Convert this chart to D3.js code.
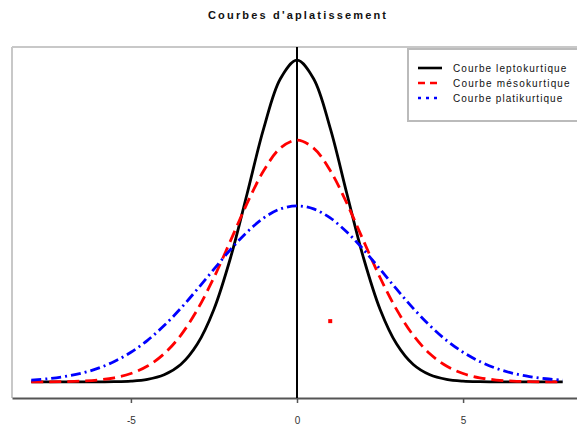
<!DOCTYPE html>
<html><head><meta charset="utf-8">
<script src="https://cdn.jsdelivr.net/npm/d3@7"></script>
<style>html,body{margin:0;padding:0;background:#fff;overflow:hidden}svg{display:block}</style>
</head><body>
<script>
// ---- data ----
const xs = [-8,-7.5,-7,-6.5,-6,-5.5,-5,-4.5,-4,-3.5,-3,-2.5,-2,-1.5,-1,-0.5,0,0.5,1,1.5,2,2.5,3,3.5,4,4.5,5,5.5,6,6.5,7,7.5,8];
const halfLepto = [0.2751,0.2592,0.2169,0.1611,0.1063,0.0622,0.0324,0.0149,0.00612,0.00223,0.00072,0.00021,0.00005,0.00001,0,0,0];
const halfMeso  = [0.2067,0.1999,0.1807,0.1528,0.1208,0.0893,0.0618,0.0399,0.0241,0.0136,0.0072,0.00357,0.00165,0.00071,0.00029,0.00011,0.00004];
const halfPlati = [0.1505,0.1479,0.1402,0.1282,0.1132,0.0964,0.0793,0.0629,0.0482,0.0356,0.0254,0.0175,0.0116,0.0074,0.0046,0.00274,0.00158];
const lepto = halfLepto.slice(1).reverse().concat(halfLepto);
const meso  = halfMeso.slice(1).reverse().concat(halfMeso);
const plati = halfPlati.slice(1).reverse().concat(halfPlati);
const seriesNames = ["Courbe leptokurtique","Courbe mésokurtique","Courbe platikurtique"];
const seriesColors = ["#000000","#ff0000","#0000ff"];
const seriesDash = [null,"12,6","10,4,2,4"];
const strayPoint = [{x:1.0, y:0.052}];
const xTicks = [-5,0,5];
const xTickLabels = ["-5","0","5"];
const title = "Courbes d'aplatissement";

// ---- layout ----
const W = 577, H = 431;
const plotL = 12, plotR = 582, plotT = 47, plotB = 398;
const FONT = "Liberation Sans, Arial, sans-serif";
const svg = d3.select("body").append("svg").attr("width",W).attr("height",H);

const x = d3.scaleLinear().domain([-8.58, 8.58]).range([plotL, plotR]);
const y = d3.scaleLinear().domain([-0.0137, 0.2863]).range([plotB, plotT]);

// frame
svg.append("line").attr("x1",plotL).attr("x2",plotL).attr("y1",plotT).attr("y2",plotB)
  .attr("stroke","#c8c8c8").attr("stroke-width",2);
svg.append("line").attr("x1",plotL).attr("x2",plotR).attr("y1",plotT).attr("y2",plotT)
  .attr("stroke","#c8c8c8").attr("stroke-width",2);

// x axis
const xAxis = d3.axisBottom(x).tickValues(xTicks).tickFormat((d,i)=>xTickLabels[i]).tickSize(5).tickSizeOuter(0);
const gx = svg.append("g").attr("transform",`translate(0,${plotB})`).call(xAxis);
gx.select(".domain").attr("stroke","#555").attr("stroke-width",2);
gx.selectAll(".tick line").attr("stroke","#555").attr("stroke-width",1.5);
gx.selectAll(".tick text").attr("font-family",FONT)
  .attr("font-size",10).attr("fill","#333").attr("dy","1.75em");

// vertical line at 0
svg.append("line").attr("x1",x(0)).attr("x2",x(0)).attr("y1",plotT).attr("y2",plotB)
  .attr("stroke","#000").attr("stroke-width",2);

// curves
const line = d3.line().x((d,i)=>x(xs[i])).y(d=>y(d)).curve(d3.curveCatmullRom);
[lepto, meso, plati].forEach((s,k)=>{
  svg.append("path").datum(s).attr("d",line).attr("fill","none")
    .attr("stroke",seriesColors[k]).attr("stroke-width",2.8)
    .attr("stroke-dasharray",seriesDash[k]);
});

// stray point
svg.selectAll(".pt").data(strayPoint).enter().append("rect")
  .attr("x",d=>x(d.x)-2).attr("y",d=>y(d.y)-2).attr("width",4).attr("height",4).attr("fill","#ff0000");

// title
svg.append("text").attr("x",297).attr("y",19).attr("text-anchor","middle")
  .attr("font-family",FONT).attr("font-weight","bold")
  .attr("font-size",11).attr("fill","#111")
  .attr("textLength",178).attr("lengthAdjust","spacing").text(title);

// legend
const lg = svg.append("g");
lg.append("rect").attr("x",408).attr("y",49).attr("width",200).attr("height",72)
  .attr("fill","#fff").attr("stroke","#bbb").attr("stroke-width",2);
seriesNames.forEach((n,k)=>{
  const yy = 68 + k*15;
  lg.append("line").attr("x1",418).attr("x2",442).attr("y1",yy).attr("y2",yy)
    .attr("stroke",seriesColors[k]).attr("stroke-width",2.6)
    .attr("stroke-dasharray",k===0?null:(k===1?"7,5":"3,5"));
  const t = lg.append("text").attr("x",453).attr("y",yy+3.5)
    .attr("font-family",FONT).attr("font-size",10)
    .attr("fill","#111").text(n);
  const len = t.node().getComputedTextLength();
  t.attr("textLength",len*1.22).attr("lengthAdjust","spacing");
});
</script>
</body></html>
